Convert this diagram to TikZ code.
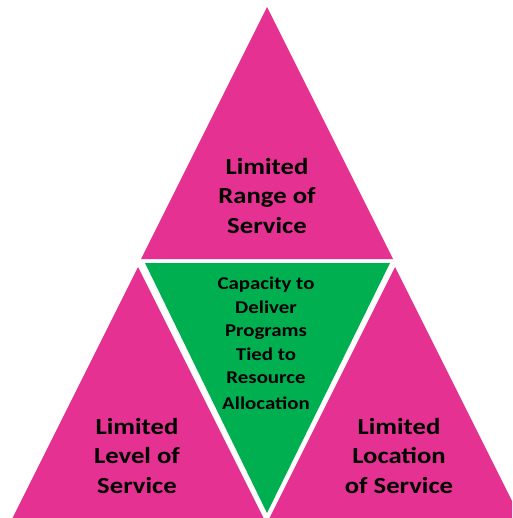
\documentclass[tikz,border=0pt]{standalone}
\usepackage{fontspec}
\setmainfont{Carlito}[FakeStretch=1.16]
\definecolor{tripink}{RGB}{229,49,145}
\definecolor{trigreen}{RGB}{0,176,80}
\begin{document}
\begin{tikzpicture}[x=1pt,y=-1pt,
  pinktri/.style={fill=tripink,draw=none},
  greentri/.style={fill=trigreen,draw=none},
  bigtext/.style={font=\bfseries\fontsize{23}{29.5}\selectfont,align=center,text=black,inner sep=0},
  smalltext/.style={font=\bfseries\fontsize{18}{23.5}\selectfont,align=center,text=black,inner sep=0}]
\useasboundingbox (0,0) rectangle (512,518);
\begin{scope}
\clip (0,0) rectangle (512,518);
\fill[pinktri] (267,7) -- (141,259) -- (393,259) -- cycle;
\fill[pinktri] (138,267) -- (12,519) -- (264,519) -- cycle;
\fill[pinktri] (395,267) -- (269,519) -- (521,519) -- cycle;
\fill[greentri] (145,263) -- (390,263) -- (267,513) -- cycle;
\end{scope}
\node[bigtext] (top) at (267,196) {Limited\\Range of\\Service};
\node[bigtext] (left) at (137,456) {Limited\\Level of\\Service};
\node[bigtext] (right) at (399,456) {Limited\\Location\\of Service};
\node[smalltext] (mid) at (266,343) {Capacity to\\Deliver\\Programs\\Tied to\\Resource\\[2pt]Allocation};
\end{tikzpicture}
\end{document}
